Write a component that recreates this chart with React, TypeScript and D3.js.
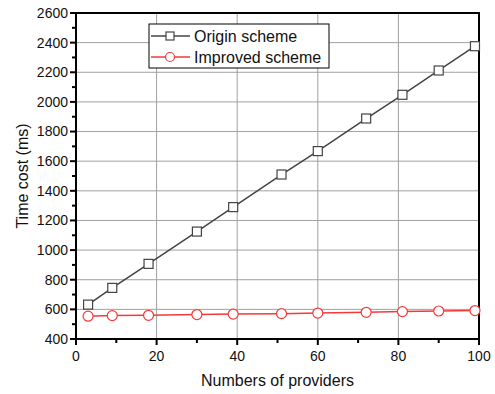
import React from "react";
import * as d3 from "d3";

const providers = [3, 9, 18, 30, 39, 51, 60, 72, 81, 90, 99];
const originScheme = [632, 745, 907, 1125, 1290, 1510, 1668, 1888, 2048, 2212, 2376];
const improvedScheme = [554, 558, 560, 565, 568, 571, 575, 580, 585, 589, 592];
const seriesNames = ["Origin scheme", "Improved scheme"];
const xTicks = [0, 20, 40, 60, 80, 100];
const yTicks = [400, 600, 800, 1000, 1200, 1400, 1600, 1800, 2000, 2200, 2400, 2600];

const W = 495;
const H = 394;
const left = 76;
const right = 479;
const top = 13;
const bottom = 339;
const FONT = "'Liberation Sans', Arial, sans-serif";
const GRAY = "#444";
const RED = "#f23a3a";

export default function App() {
  const x = d3.scaleLinear().domain([0, 100]).range([left, right]);
  const y = d3.scaleLinear().domain([400, 2600]).range([bottom, top]);
  const line = d3
    .line<number>()
    .x((_, i) => x(providers[i]))
    .y((d) => y(d));

  const xMinor = d3.range(10, 100, 20);
  const yMinor = d3.range(500, 2600, 200);

  return (
    <svg
      width={W}
      height={H}
      style={{ position: "absolute", left: 0, top: 0, background: "#fff" }}
      fontFamily={FONT}
    >
      {/* grid */}
      {xTicks.slice(1, -1).map((t) => (
        <line key={"gx" + t} x1={x(t)} x2={x(t)} y1={top} y2={bottom} stroke="#a0a0a0" strokeWidth={1} />
      ))}
      {yTicks.slice(1, -1).map((t) => (
        <line key={"gy" + t} x1={left} x2={right} y1={y(t)} y2={y(t)} stroke="#a0a0a0" strokeWidth={1} />
      ))}

      {/* frame */}
      <rect x={left} y={top} width={right - left} height={bottom - top} fill="none" stroke="#000" strokeWidth={2} />

      {/* y ticks */}
      {yTicks.map((t) => (
        <g key={"yt" + t}>
          <line x1={left - 6} x2={left} y1={y(t)} y2={y(t)} stroke="#000" strokeWidth={2} />
          <text x={left - 8} y={y(t)} dy="0.35em" textAnchor="end" fontSize={14} fill="#111">
            {t}
          </text>
        </g>
      ))}
      {yMinor.map((t) => (
        <line key={"ym" + t} x1={left - 4} x2={left} y1={y(t)} y2={y(t)} stroke="#000" strokeWidth={2} />
      ))}

      {/* x ticks */}
      {xTicks.map((t) => (
        <g key={"xt" + t}>
          <line x1={x(t)} x2={x(t)} y1={bottom} y2={bottom + 6} stroke="#000" strokeWidth={2} />
          <text x={x(t)} y={bottom + 22} textAnchor="middle" fontSize={14} fill="#111">
            {t}
          </text>
        </g>
      ))}
      {xMinor.map((t) => (
        <line key={"xm" + t} x1={x(t)} x2={x(t)} y1={bottom} y2={bottom + 4} stroke="#000" strokeWidth={2} />
      ))}

      {/* axis titles */}
      <text x={(left + right) / 2} y={386} textAnchor="middle" fontSize={16} fill="#111">
        Numbers of providers
      </text>
      <text
        transform={`translate(28,${(top + bottom) / 2}) rotate(-90)`}
        textAnchor="middle"
        fontSize={16}
        fill="#111"
      >
        Time cost (ms)
      </text>

      {/* series */}
      <path d={line(originScheme) || ""} fill="none" stroke={GRAY} strokeWidth={1.5} />
      <path d={line(improvedScheme) || ""} fill="none" stroke={RED} strokeWidth={1.5} />
      {originScheme.map((v, i) => (
        <rect
          key={"o" + i}
          x={x(providers[i]) - 4.5}
          y={y(v) - 4.5}
          width={9}
          height={9}
          fill="#fff"
          stroke={GRAY}
          strokeWidth={1.2}
        />
      ))}
      {improvedScheme.map((v, i) => (
        <circle key={"m" + i} cx={x(providers[i])} cy={y(v)} r={5} fill="#fff" stroke={RED} strokeWidth={1.2} />
      ))}

      {/* legend */}
      <rect x={149} y={24} width={180} height={44} fill="#fff" stroke="#000" strokeWidth={1} />
      <line x1={151} x2={190} y1={36} y2={36} stroke={GRAY} strokeWidth={1.5} />
      <rect x={166} y={32} width={8} height={8} fill="#fff" stroke={GRAY} strokeWidth={1.2} />
      <text x={194} y={36} dy="0.35em" fontSize={16} fill="#111">
        {seriesNames[0]}
      </text>
      <line x1={151} x2={190} y1={57} y2={57} stroke={RED} strokeWidth={1.5} />
      <circle cx={170} cy={57} r={4.5} fill="#fff" stroke={RED} strokeWidth={1.2} />
      <text x={194} y={57} dy="0.35em" fontSize={16} fill="#111">
        {seriesNames[1]}
      </text>
    </svg>
  );
}
